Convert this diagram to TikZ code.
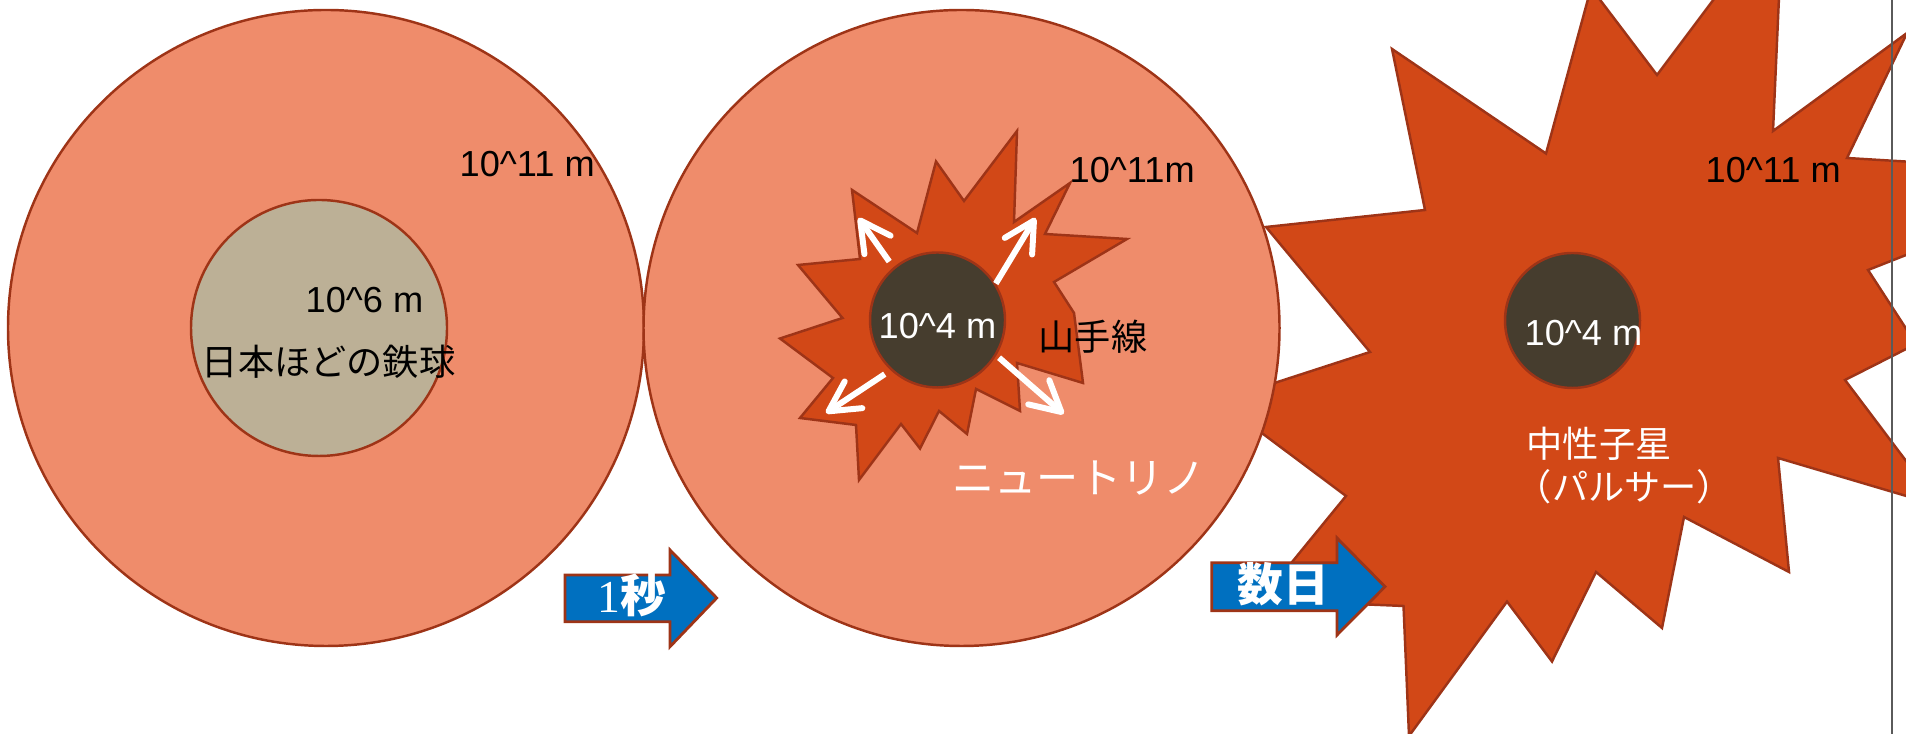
\documentclass[tikz,border=0pt]{standalone}
\usepackage{fontspec}
\setmainfont{Liberation Sans}
\newfontfamily\jpfont{Noto Sans CJK JP}
\newfontfamily\numfont{Liberation Serif}
\usetikzlibrary{arrows.meta}
\definecolor{shellfill}{HTML}{EF8C6B}
\definecolor{ironfill}{HTML}{BCB096}
\definecolor{burstfill}{HTML}{D24817}
\definecolor{corefill}{HTML}{463D2E}
\definecolor{rim}{HTML}{9E3417}
\definecolor{timeblue}{HTML}{0070C0}
\definecolor{sideline}{HTML}{5A5A5A}
\tikzset{
  shell/.style={ draw=rim, line width=0.7pt, fill=shellfill, circle, inner sep=0, minimum size=6.36cm }
}
\tikzset{
  ironball/.style={ draw=rim, line width=0.7pt, fill=ironfill, circle, inner sep=0, minimum size=2.56cm },
  core/.style={ draw=rim, line width=0.7pt, fill=corefill, circle, inner sep=0, minimum size=1.35cm }
}
\tikzset{
  burst/.style={ draw=rim, line width=0.7pt, fill=burstfill, line join=miter },
  timearrow/.style={ draw=rim, line width=0.8pt, fill=timeblue },
  nuarrow/.style={ white, line width=1.7pt, -{Straight Barb[length=3mm,width=3.2mm,round]} }
}
\tikzset{
  lbl/.style={ inner sep=0, font=\fontsize{10.3}{12.4}\selectfont },
  jlbl/.style={ inner sep=0, font=\jpfont\fontsize{10.3}{12.4}\selectfont },
  tlbl/.style={ inner sep=0, text=white, font=\jpfont\bfseries\fontsize{13}{15}\selectfont }
}

\begin{document}
\begin{tikzpicture}
      \useasboundingbox (0,0) rectangle (19.06,7.34);
      \clip (0,0) rectangle (19.06,7.34);

      % pulsar burst, partly hidden by the second shell
      \draw[burst] (12.66,5.07) -- (14.25,5.24) -- (13.92,6.85) -- (15.46,5.805)
        -- (15.91,7.46) -- (16.57,6.59) -- (17.83,8.27) -- (17.73,6.03)
        -- (19.07,7.01) -- (18.47,5.76) -- (21.12,5.60) -- (18.68,4.64)
        -- (19.16,3.90) -- (18.45,3.54) -- (19.40,2.28) -- (17.78,2.76)
        -- (17.89,1.62) -- (16.84,2.17) -- (16.62,1.06) -- (15.96,1.62)
        -- (15.52,0.725) -- (15.07,1.324) -- (14.09,-0.02) -- (14.035,1.28)
        -- (12.61,1.34) -- (13.46,2.38) -- (12.19,3.33) -- (13.70,3.82) -- cycle;

      \node[shell] (shell1) at (3.26,4.06) {};
      \node[ironball] (iron) at (3.19,4.06) {};
      \node[shell] (shell2) at (9.615,4.06) {};

      % collapse burst inside the second shell
      \draw[burst] (8.52,5.44) -- (9.17,5.01) -- (9.36,5.725) -- (9.64,5.33)
        -- (10.17,6.03) -- (10.14,5.12) -- (10.70,5.51) -- (10.45,5.00)
        -- (11.27,4.95) -- (10.54,4.52) -- (10.74,4.21) -- (10.83,3.51)
        -- (10.17,3.71) -- (10.20,3.23) -- (9.76,3.45) -- (9.67,3.00)
        -- (9.39,3.23) -- (9.20,2.855) -- (9.01,3.10) -- (8.59,2.54)
        -- (8.56,3.09) -- (8.00,3.16) -- (8.33,3.56) -- (7.80,3.955)
        -- (8.425,4.16) -- (7.98,4.69) -- (8.60,4.75) -- cycle;

      \node[core] (core1) at (9.375,4.14) {};
      \node[core] (core2) at (15.725,4.135) {};

      % neutrinos
      \coordinate (nu1) at (8.585,5.16);
      \coordinate (nu2) at (10.355,5.16);
      \coordinate (nu3) at (8.26,3.21);
      \coordinate (nu4) at (10.636,3.20);
      \draw[nuarrow, shorten <=2pt] (core1.130) -- (nu1);
      \draw[nuarrow] (core1.32) -- (nu2);
      \draw[nuarrow, shorten <=2pt] (core1.227) -- (nu3);
      \draw[nuarrow, shorten <=1pt] (core1.-31) -- (nu4);

      \node[lbl, anchor=base west] (size1) at (4.59,5.57) {10\textasciicircum11 m};
      \node[lbl, anchor=base west] (size2) at (3.05,4.21) {10\textasciicircum6 m};
      \node[jlbl] (ironname) at (3.285,3.725) {日本ほどの鉄球};

      \node[lbl, anchor=base west, text=white] (size3) at (8.78,3.95) {10\textasciicircum4 m};
      \node[jlbl] (loop) at (10.93,3.97) {山手線};
      \node[lbl, anchor=base west] (size4) at (10.69,5.51) {10\textasciicircum11m};
      \node[jlbl, text=white, font=\jpfont\fontsize{12}{14}\selectfont] (nuname) at (10.79,2.555) {ニュートリノ};

      \node[lbl, anchor=base west, text=white] (size5) at (15.24,3.88) {10\textasciicircum4 m};
      \node[lbl, anchor=base west] (size6) at (17.05,5.51) {10\textasciicircum11 m};
      \node[jlbl, text=white, anchor=north west, align=left] (nsname) at (15.26,3.08) {中性子星\\\kern-0.3em（パルサー）};

      % time steps
      \draw[timearrow] (5.65,1.59) -- (6.70,1.59) -- (6.70,1.84) -- (7.167,1.36)
        -- (6.70,0.873) -- (6.70,1.123) -- (5.65,1.123) -- cycle;
      \node[tlbl] (step1) at (6.315,1.39) {{\numfont\mdseries 1}秒};
      \draw[timearrow] (12.117,1.713) -- (13.37,1.713) -- (13.37,1.96) -- (13.85,1.473)
        -- (13.37,0.99) -- (13.37,1.233) -- (12.117,1.233) -- cycle;
      \node[tlbl] (step2) at (12.835,1.50) {数日};

      \draw[sideline, line width=0.6pt] (18.92,0) -- (18.92,7.34);
    \end{tikzpicture}
\end{document}
